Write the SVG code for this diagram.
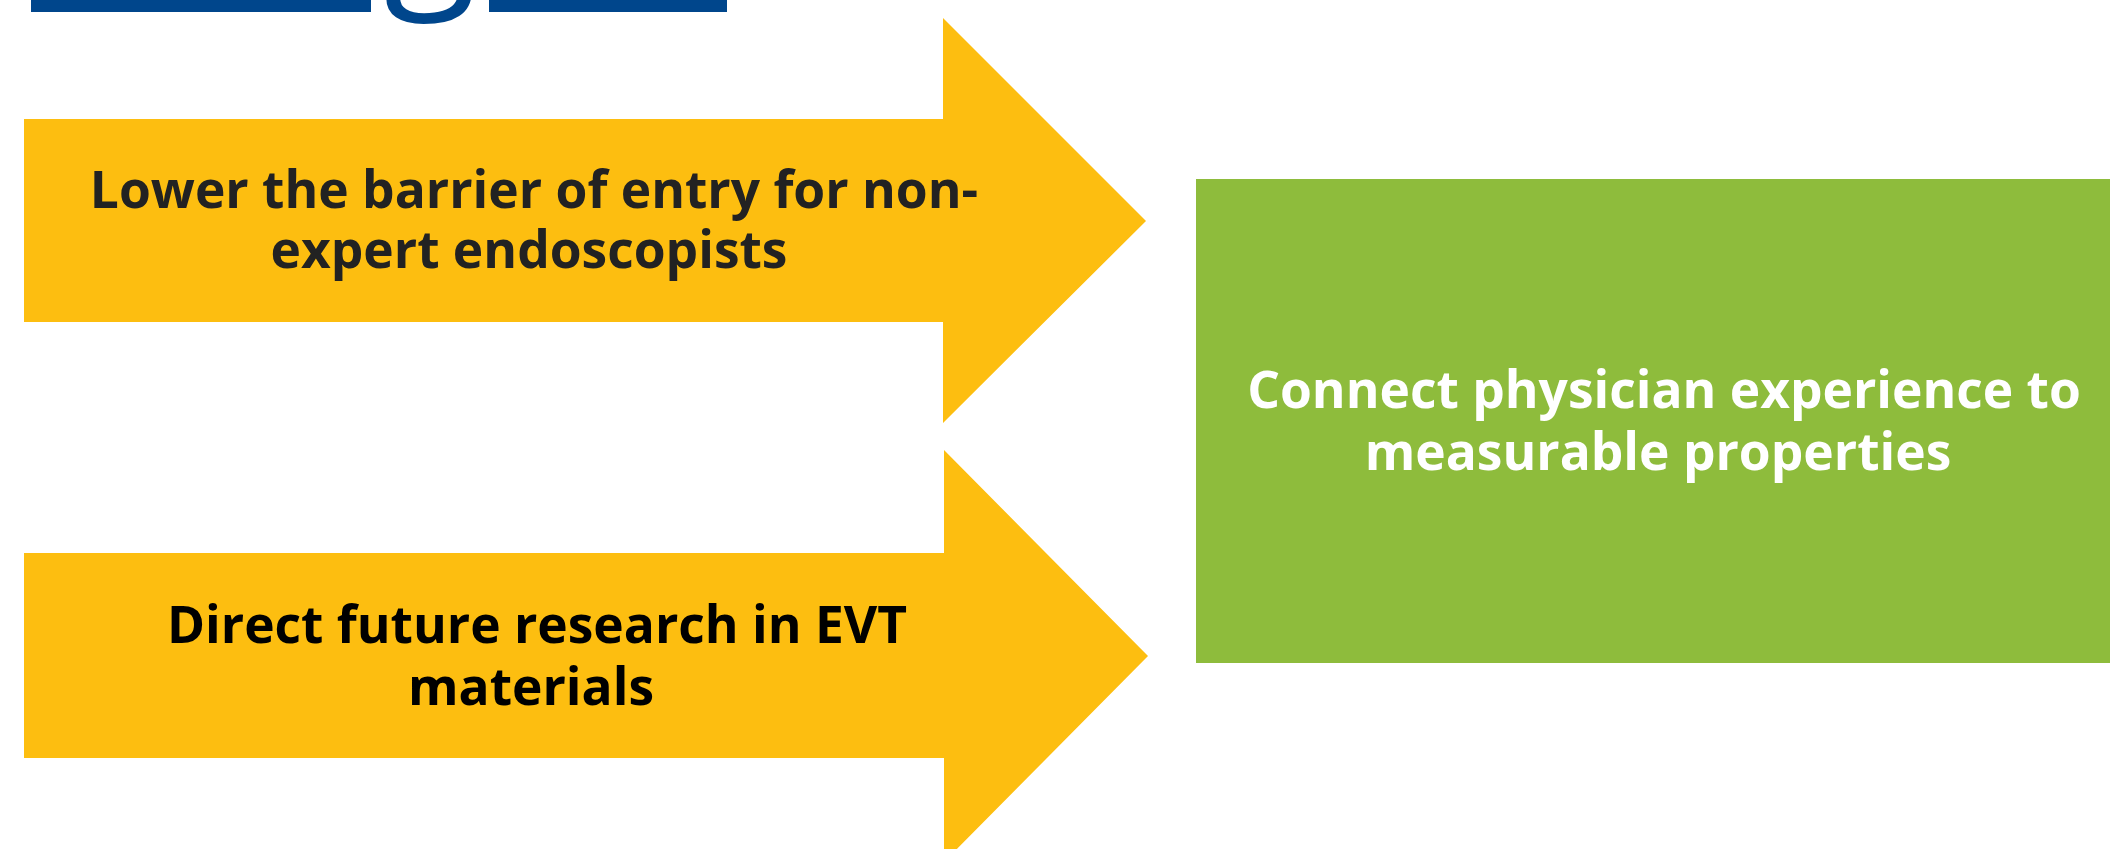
<svg xmlns="http://www.w3.org/2000/svg" width="2110" height="849" viewBox="0 0 2110 849">
  <style>
    .arrow { fill: #FDBE10; }
    .box { fill: #8EBC3C; }
    .lbl { font-family: "Open Sans", "Liberation Sans", sans-serif; font-weight: 700; font-size: 51.5px; text-anchor: middle; }
    .dark { fill: #222222; }
    .black { fill: #000000; }
    .white { fill: #FFFFFF; }
    .title { fill: #00468C; }
  </style>
  <rect width="2110" height="849" fill="#FFFFFF"/>
  <g id="title">
    <rect class="title" x="31" y="0" width="340" height="12"/>
    <rect class="title" x="489" y="0" width="238" height="12"/>
    <text x="430" y="-17" font-family="Open Sans, Liberation Sans, sans-serif" font-size="170" text-anchor="middle" class="title">g</text>
  </g>
  <g id="arrow-lower-barrier">
    <polygon class="arrow" points="24,119 943,119 943,18 1146,221 943,423 943,322 24,322"/>
    <text class="lbl dark" x="534" y="208">Lower the barrier of entry for non-</text>
    <text class="lbl dark" x="529" y="268">expert endoscopists</text>
  </g>
  <g id="arrow-direct-research">
    <polygon class="arrow" points="24,553 944,553 944,450 1148,656 944,862 944,758 24,758"/>
    <text class="lbl black" x="537" y="643">Direct future research in EVT</text>
    <text class="lbl black" x="531" y="705">materials</text>
  </g>
  <g id="goal-box">
    <rect class="box" x="1196" y="179" width="914" height="484"/>
    <text class="lbl white" x="1664" y="408">Connect physician experience to</text>
    <text class="lbl white" x="1658" y="470">measurable properties</text>
  </g>
  <g id="connectors"/>
</svg>
